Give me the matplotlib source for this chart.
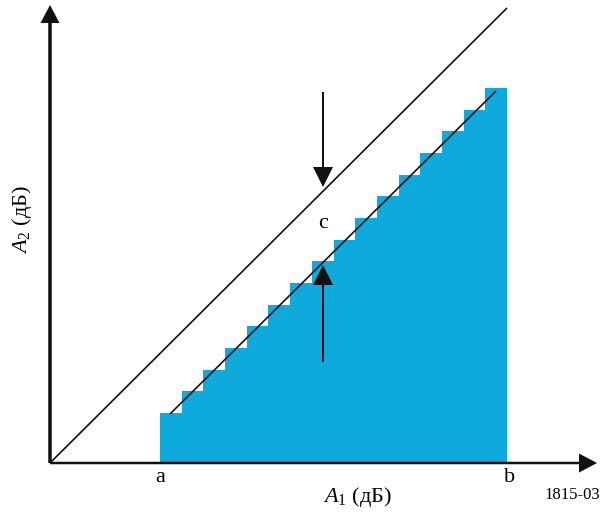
import matplotlib
matplotlib.use("Agg")
import matplotlib.pyplot as plt

# ---- data (chart units, origin at axes crossing) ----
step_edges = [110, 132, 153, 175, 197, 218, 240, 262, 284, 305, 327, 349, 370, 392, 414, 435, 457]
step_levels = [50, 72, 93, 115, 137, 158, 180, 202, 223, 245, 267, 288, 310, 332, 353, 375]
diag_x = [0, 457]
diag_y = [0, 455]
inner_x = [120, 446]
inner_y = [49, 372]
x_ticks = [110, 460]
x_tick_labels = ["a", "b"]
c_pos = (273, 240)
arrow_down = (371, 276)   # start, tip
arrow_up = (101, 198)     # start, tip

plt.rcParams['font.family'] = ['Liberation Serif', 'DejaVu Serif']
plt.rcParams['mathtext.fontset'] = 'custom'
plt.rcParams['mathtext.rm'] = 'Liberation Serif'
plt.rcParams['mathtext.it'] = 'Liberation Serif:italic'

fig = plt.figure(figsize=(6.05, 5.15), dpi=100)
ax = fig.add_axes([0, 0, 1, 1])
ax.set_xlim(-50, 555)
ax.set_ylim(-52, 463)
ax.axis('off')

blue = '#0DAADB'
ax.stairs(step_levels, step_edges, fill=True, color=blue, baseline=0, zorder=1)

ax.plot(diag_x, diag_y, color='#111111', lw=1.2, zorder=3, solid_capstyle='butt')
ax.plot(inner_x, inner_y, color='#111111', lw=1.2, zorder=3, solid_capstyle='butt')

# axes with arrows
ax.arrow(0, 0, 547, 0, width=2.5, head_width=19, head_length=18,
         length_includes_head=True, color='#111111', lw=0, zorder=4)
ax.arrow(0, 0, 0, 458, width=3.5, head_width=19, head_length=18,
         length_includes_head=True, color='#111111', lw=0, zorder=4)

# c arrows
ax.arrow(c_pos[0], arrow_down[0], 0, arrow_down[1] - arrow_down[0], width=2.0,
         head_width=20, head_length=20, length_includes_head=True,
         color='#111111', lw=0, zorder=5)
ax.arrow(c_pos[0], arrow_up[0], 0, arrow_up[1] - arrow_up[0], width=2.0,
         head_width=20, head_length=20, length_includes_head=True,
         color='#111111', lw=0, zorder=5)

ax.text(c_pos[0], c_pos[1], "c", fontsize=16, ha='center', va='center', zorder=6)

for x, lab in zip(x_ticks, x_tick_labels):
    ax.text(x, -15, lab, fontsize=16, ha='center', va='center')

ax.text(307, -34, r"$A_1$ (дБ)", fontsize=16, ha='center', va='center')
ax.text(-28, 243, r"$A_2$ (дБ)", fontsize=16, ha='center', va='center', rotation=90)
ax.text(522, -32, "1815-03", fontsize=12, ha='center', va='center')

fig.savefig("out.png", dpi=100)
